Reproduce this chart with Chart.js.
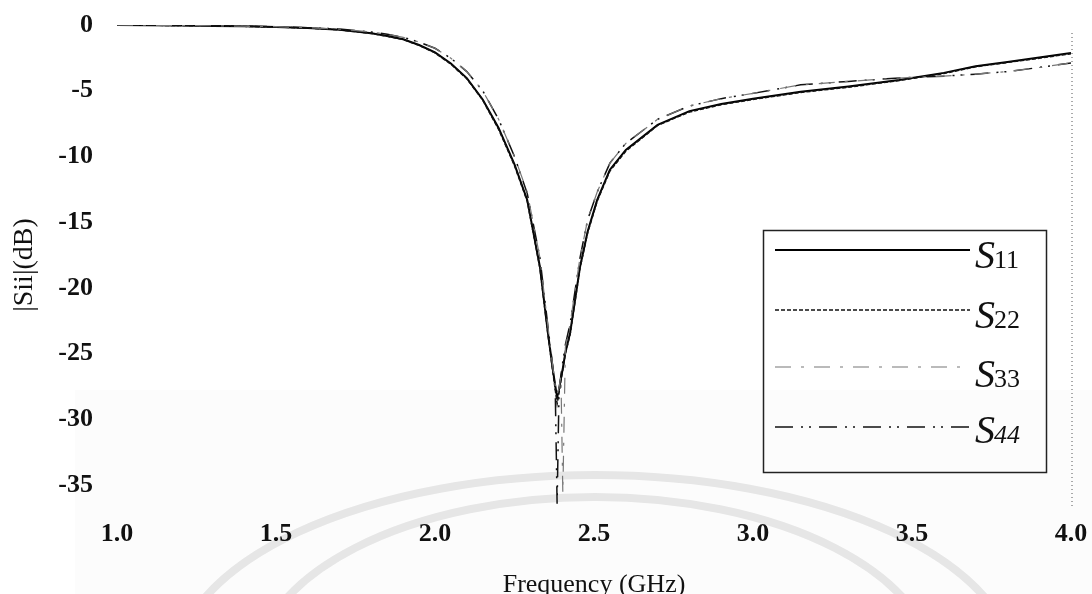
<!DOCTYPE html>
<html><head><meta charset="utf-8">
<script src="https://cdn.jsdelivr.net/npm/chart.js@4.4.1/dist/chart.umd.min.js"></script>
<style>html,body{margin:0;padding:0;background:#fff;}#wrap{width:1092px;height:594px;position:relative;}</style>
</head><body><div id="wrap"><canvas id="c" width="1092" height="594"></canvas></div>
<script>
const freq = [1.0,1.1,1.2,1.3,1.4,1.5,1.6,1.7,1.8,1.85,1.9,1.95,2.0,2.05,2.1,2.15,2.2,2.25,2.29,2.33,2.355,2.37,2.378,2.384,2.39,2.396,2.402,2.41,2.425,2.456,2.48,2.51,2.55,2.6,2.7,2.8,2.9,3.0,3.15,3.3,3.46,3.6,3.7,3.8,3.9,4.0];
const s11 = [0,-0.02,-0.04,-0.07,-0.1,-0.16,-0.23,-0.36,-0.63,-0.83,-1.09,-1.52,-2.08,-2.93,-4.04,-5.66,-7.83,-10.6,-13.3,-18.4,-23.4,-26.1,-27.4,-28.3,-27.7,-26.9,-26.1,-24.9,-23.4,-18.4,-15.7,-13.3,-11.0,-9.5,-7.6,-6.55,-6.0,-5.6,-5.07,-4.67,-4.18,-3.64,-3.13,-2.81,-2.47,-2.12];
const s22 = [0,-0.02,-0.04,-0.07,-0.1,-0.16,-0.23,-0.37,-0.65,-0.86,-1.11,-1.55,-2.12,-2.98,-4.09,-5.71,-7.93,-10.7,-13.4,-18.5,-23.5,-26.3,-27.7,-28.8,-28.0,-27.0,-26.2,-25.0,-23.5,-18.5,-15.8,-13.4,-11.1,-9.6,-7.63,-6.62,-6.06,-5.66,-5.13,-4.73,-4.22,-3.69,-3.18,-2.85,-2.53,-2.18];
const s33 = [0,-0.02,-0.03,-0.06,-0.09,-0.13,-0.2,-0.31,-0.53,-0.71,-0.94,-1.3,-1.77,-2.53,-3.54,-5.0,-7.17,-10.0,-12.7,-17.7,-22.9,-25.9,-27.4,-28.1,-27.6,-26.7,-35.6,-24.5,-22.7,-17.7,-14.8,-12.7,-10.5,-9.0,-7.17,-6.16,-5.6,-5.2,-4.55,-4.29,-4.03,-3.89,-3.74,-3.54,-3.23,-2.89];
const s44 = [0,-0.02,-0.03,-0.06,-0.09,-0.13,-0.2,-0.31,-0.53,-0.71,-0.94,-1.3,-1.77,-2.53,-3.54,-5.0,-7.17,-10.0,-12.8,-17.7,-22.9,-25.9,-27.6,-36.4,-27.9,-26.6,-25.6,-24.3,-22.7,-17.7,-14.8,-12.7,-10.5,-9.0,-7.17,-6.16,-5.6,-5.2,-4.55,-4.29,-4.03,-3.89,-3.74,-3.54,-3.23,-2.89];
const xTickValues = [1.0,1.5,2.0,2.5,3.0,3.5,4.0];
const yTickValues = [0,-5,-10,-15,-20,-25,-30,-35];
const seriesSub = ['11','22','33','44'];

const pts = v => freq.map((f,i)=>({x:f,y:v[i]}));
const styles = [
  {borderColor:'#000',borderWidth:2,borderDash:[]},
  {borderColor:'#111',borderWidth:1.5,borderDash:[4,2]},
  {borderColor:'#777',borderWidth:1.2,borderDash:[16,10,3,10]},
  {borderColor:'#111',borderWidth:1.5,borderDash:[18,8,2,6,2,8]}
];
const allSeries = [s11,s22,s33,s44];
const drawOrder = [2,3,1,0];
const datasets = drawOrder.map(k=>Object.assign({label:'S'+seriesSub[k],data:pts(allSeries[k]),pointRadius:0,tension:0,fill:false},styles[k]));

const watermark = {
  id:'watermark',
  beforeDraw(chart){
    const ctx=chart.ctx;ctx.save();
    ctx.fillStyle='rgba(0,0,0,0.012)';ctx.fillRect(75,390,1017,204);
    ctx.strokeStyle='rgba(0,0,0,0.09)';ctx.lineWidth=8;
    ctx.beginPath();ctx.ellipse(595,670,420,195,0,Math.PI,2*Math.PI);ctx.stroke();
    ctx.beginPath();ctx.ellipse(595,672,340,175,0,Math.PI,2*Math.PI);ctx.stroke();
    ctx.restore();
  }
};

const legendPlugin = {
  id:'customLegend',
  afterDraw(chart){
    const ctx = chart.ctx;
    ctx.save();
    ctx.strokeStyle='#222';ctx.lineWidth=1.5;ctx.setLineDash([]);
    ctx.strokeRect(763.5,230.5,283,242);
    const rows=[250,310,367,427], base=[268,328,387,443];
    for(let k=0;k<4;k++){
      const st=styles[k];
      ctx.strokeStyle=st.borderColor;ctx.lineWidth=st.borderWidth;ctx.setLineDash(st.borderDash);
      ctx.beginPath();ctx.moveTo(775,rows[k]);ctx.lineTo(970,rows[k]);ctx.stroke();
      ctx.setLineDash([]);
      ctx.fillStyle='#111';ctx.textBaseline='alphabetic';ctx.textAlign='left';
      ctx.font='italic 40px "Liberation Serif"';
      ctx.fillText('S',975,base[k]);
      const w=ctx.measureText('S').width;
      ctx.font=(k===3?'italic ':'')+'26px "Liberation Serif"';
      ctx.fillText(seriesSub[k],975+w-1,base[k]);
    }
    const a=chart.chartArea;
    ctx.strokeStyle='#555';ctx.lineWidth=1;ctx.setLineDash([1,3]);
    ctx.beginPath();ctx.moveTo(a.right+1,a.top+8);ctx.lineTo(a.right+1,a.bottom+3);ctx.stroke();
    ctx.restore();
  }
};

new Chart(document.getElementById('c'),{
  type:'line',
  data:{datasets},
  options:{
    responsive:false,animation:false,devicePixelRatio:1,
    layout:{padding:{top:25,right:21,bottom:0,left:0}},
    plugins:{legend:{display:false},tooltip:{enabled:false}},
    scales:{
      x:{type:'linear',min:1,max:4,
        afterBuildTicks:s=>{s.ticks=xTickValues.map(v=>({value:v}));},
        afterFit:s=>{s.height=89;s.paddingLeft=0;s.paddingRight=0;},
        grid:{display:false,drawTicks:false},border:{display:false},
        ticks:{padding:14,color:'#111',font:{family:'"Liberation Serif"',size:26,weight:'bold'},callback:v=>Number(v).toFixed(1),maxRotation:0},
        title:{display:true,text:'Frequency (GHz)',color:'#111',font:{family:'"Liberation Serif"',size:26,lineHeight:1},padding:{top:0,bottom:-4}}
      },
      y:{min:-36.5,max:0,
        afterBuildTicks:s=>{s.ticks=yTickValues.map(v=>({value:v}));},
        afterFit:s=>{s.width=117;s.paddingTop=0;s.paddingBottom=0;},
        grid:{display:false,drawTicks:false},border:{display:false},
        ticks:{padding:24,color:'#111',font:{family:'"Liberation Serif"',size:26,weight:'bold'},callback:v=>String(v)},
        title:{display:true,text:'|Sii|(dB)',color:'#111',font:{family:'"Liberation Serif"',size:28,lineHeight:1.2},padding:{top:8,bottom:0}}
      }
    }
  },
  plugins:[watermark,legendPlugin]
});
</script></body></html>
